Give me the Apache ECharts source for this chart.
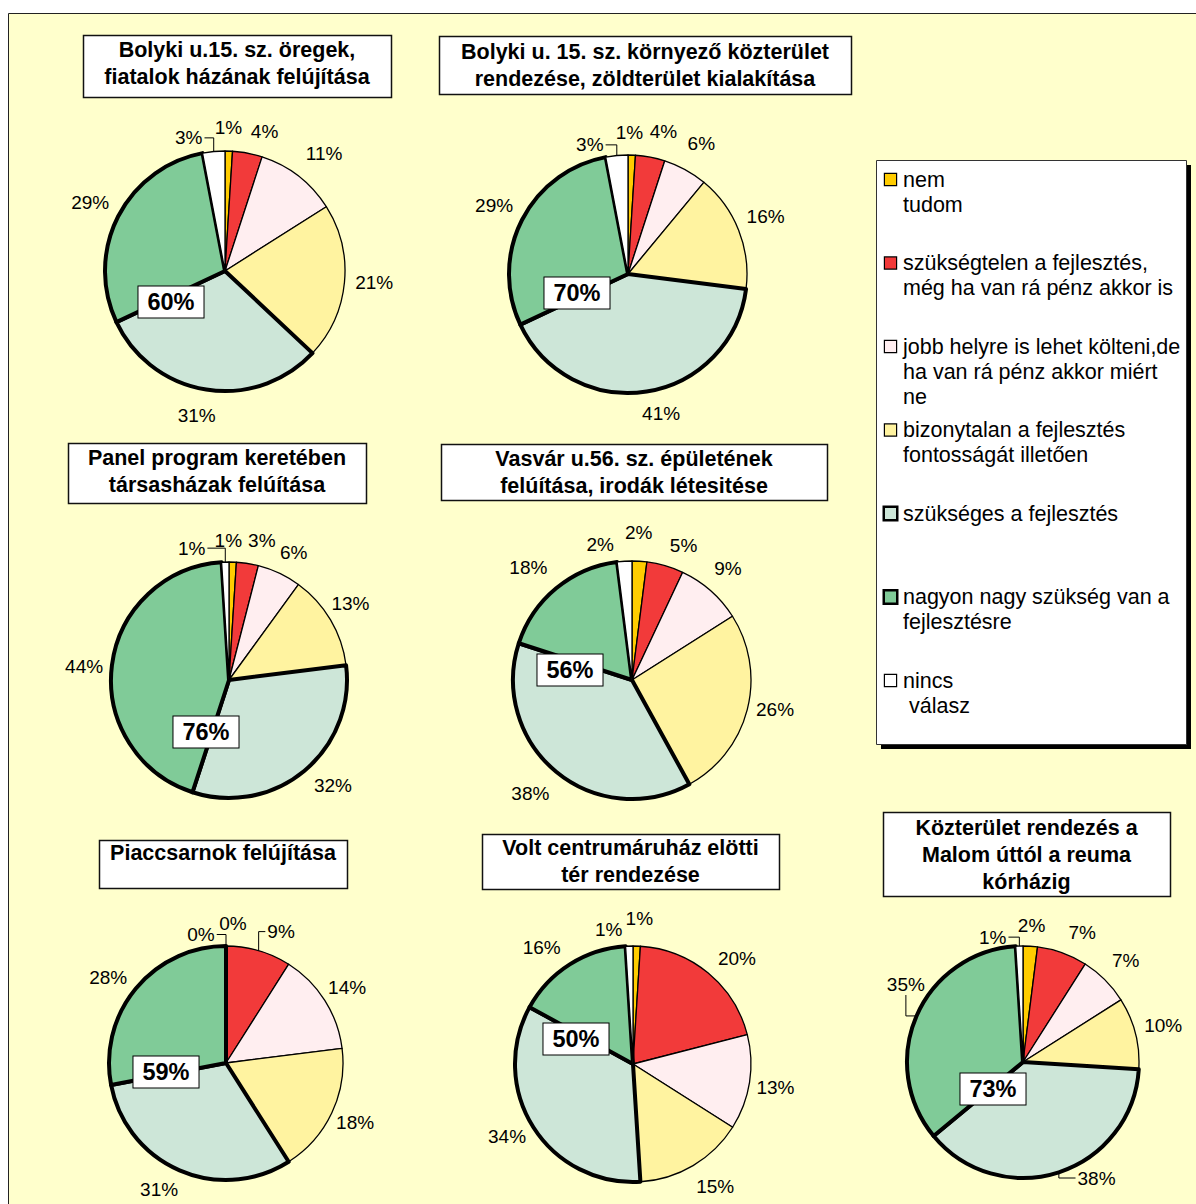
<!DOCTYPE html>
<html>
<head>
<meta charset="utf-8">
<script src="https://cdn.jsdelivr.net/npm/echarts@6/dist/echarts.min.js"></script>
<style>
html,body{margin:0;padding:0;background:#fff;}
#c{width:1196px;height:1204px;}
</style>
</head>
<body>
<div id="c"></div>
<script>
// ---------------- DATA ----------------
const categories = [
  'nem\ntudom',
  'szükségtelen a fejlesztés,\nmég ha van rá pénz akkor is',
  'jobb helyre is lehet költeni,de\nha van rá pénz akkor miért\nne',
  'bizonytalan a fejlesztés\nfontosságát illetően',
  'szükséges a fejlesztés',
  'nagyon nagy szükség van a\nfejlesztésre',
  'nincs\n válasz'
];
const titles = [
  'Bolyki u.15. sz. öregek,\nfiatalok házának felújítása',
  'Bolyki u. 15. sz. környező közterület\nrendezése, zöldterület kialakítása',
  'Panel program keretében\ntársasházak felúítása',
  'Vasvár u.56. sz. épületének\nfelúítása, irodák létesitése',
  'Piaccsarnok felújítása',
  'Volt centrumáruház elötti\ntér rendezése',
  'Közterület rendezés a\nMalom úttól a reuma\nkórházig'
];
const bolykiHaz      = [1, 4, 11, 21, 31, 29, 3];
const bolykiKozter   = [1, 4, 6, 16, 41, 29, 3];
const panelProgram   = [1, 3, 6, 13, 32, 44, 1];
const vasvarEpulet   = [2, 5, 9, 26, 38, 18, 2];
const piaccsarnok    = [0, 9, 14, 18, 31, 28, 0];
const centrumTer     = [1, 20, 13, 15, 34, 16, 1];
const malomKozter    = [2, 7, 7, 10, 38, 35, 1];
const seriesValues = [bolykiHaz, bolykiKozter, panelProgram, vasvarEpulet, piaccsarnok, centrumTer, malomKozter];
// indices of the two "needed" categories summed in the boxed centre label
const neededIdx = [4, 5];

// ---------------- STYLE / LAYOUT ----------------
const FONT = "'Liberation Sans', Arial, Helvetica, sans-serif";
const colors = ['#FFCC00', '#F23A3A', '#FFEEF0', '#FFF3A0', '#CDE6D8', '#80CB98', '#FFFFFF'];
const thickBorder = [false, false, false, false, true, true, false];
const pieCenters = [[225, 271], [628, 274], [229, 680], [632, 680], [226, 1063], [633, 1064], [1023, 1062]];
const pieRadii = [120, 119, 118, 119, 117, 118, 116];
// title boxes: x, y, w, h, first line centre y
const titleBoxes = [
  [83, 35, 308, 62, 50], [439, 36, 412, 58, 52], [68, 443, 298, 60, 458],
  [441, 444, 386, 56, 459], [99, 840, 248, 48, 853], [482, 834, 297, 55, 848],
  [883, 812, 287, 84, 828]
];
// boxed sum label offset from pie centre
const centerLabelOffsets = [[-54, 31], [-51, 19], [-23, 52], [-62, -10], [-60, 9], [-57, -25], [-30, 27]];
// per-label nudges [dx, dy, leaderLine]
const labelShifts = [
  [[-1, -4], [13, 0], [8, 0], [0, -3], [-6, 4], [0, 0], [-23, 7, 1]],
  [[-3, -3], [9, -4], [4, -4], [-2, -2], [11, 0], [0, 0], [-25, 10, 1]],
  [[-5, -2], [11, -2], [4, 1], [-7, -1], [10, -8], [2, 5], [-33, 6, 1]],
  [[-2, -8], [12, 2], [0, -3], [-2, -8], [-7, -1], [-9, 2], [-23, 4]],
  [[7, -3], [16, 3, 1], [-4, 4], [-5, -4], [-10, -5], [-4, 9], [-25, 8, 1]],
  [[2, -8], [10, 8], [-4, 0], [8, -3], [0, -7], [-13, 7], [-20, 3]],
  [[0, 0], [12, 2], [2, -1], [-2, 0], [30, -18, 1], [18, -19, 1], [-26, 11, 1]]
];
const LABEL_GAP = 10;

// ---------------- BUILD ----------------
function makeLabelLayout(ci) {
  return function (p) {
    const vals = seriesValues[ci];
    const total = vals.reduce((a, b) => a + b, 0);
    let cum = 0;
    for (let i = 0; i < p.dataIndex; i++) cum += vals[i];
    const th = 2 * Math.PI * (cum + vals[p.dataIndex] / 2) / total;
    const dx = Math.sin(th), dy = -Math.cos(th);
    const cx = pieCenters[ci][0], cy = pieCenters[ci][1], r = pieRadii[ci];
    const ex = cx + r * dx, ey = cy + r * dy;
    const hw = p.labelRect.width / 2, hh = p.labelRect.height / 2;
    const d = LABEL_GAP + hw * Math.abs(dx) + hh * Math.abs(dy);
    const sh = labelShifts[ci][p.dataIndex] || [0, 0];
    const lx = ex + dx * d + sh[0], ly = ey + dy * d + sh[1];
    const out = { x: lx, y: ly, align: 'center', verticalAlign: 'middle' };
    if (sh[2]) {
      const L = lx - hw, R = lx + hw, T = ly - hh, B = ly + hh;
      let pts;
      if (ex > R + 2) pts = [[R + 2, ly], [ex, ly], [ex, ey]];
      else if (ex < L - 2) pts = [[L - 2, ly], [ex, ly], [ex, ey]];
      else pts = [[lx, ey > ly ? B + 1 : T - 1], [lx, ey], [ex, ey]];
      out.labelLinePoints = pts;
    }
    return out;
  };
}

const series = seriesValues.map((vals, ci) => ({
  type: 'pie',
  center: pieCenters[ci],
  radius: pieRadii[ci],
  startAngle: 90,
  clockwise: true,
  avoidLabelOverlap: false,
  silent: true,
  animation: false,
  emphasis: { disabled: true },
  label: { show: true, position: 'outside', formatter: '{c}%', fontSize: 19, fontFamily: FONT, color: '#000' },
  labelLine: { show: false, lineStyle: { color: '#000', width: 1 } },
  labelLayout: makeLabelLayout(ci),
  data: vals.map((v, i) => ({
    name: categories[i],
    value: v,
    itemStyle: { color: colors[i], borderColor: '#000', borderWidth: thickBorder[i] ? 4 : 1.3, borderJoin: 'round' },
    labelLine: { show: !!(labelShifts[ci][i] && labelShifts[ci][i][2]) }
  }))
}));

const graphics = [];
// page frame
graphics.push({ type: 'rect', z: -10, shape: { x: 8.5, y: 13.5, width: 1200, height: 1200 },
  style: { fill: '#FFFFCC', stroke: '#222', lineWidth: 1 } });
// legend frame with shadow
graphics.push({ type: 'rect', z: -5, shape: { x: 881, y: 165, width: 310, height: 584 }, style: { fill: '#000' } });
graphics.push({ type: 'rect', z: -4, shape: { x: 876.5, y: 160.5, width: 310, height: 584 },
  style: { fill: '#fff', stroke: '#333', lineWidth: 1 } });
// title boxes
titles.forEach((t, i) => {
  const b = titleBoxes[i];
  graphics.push({ type: 'rect', z: -3, shape: { x: b[0] + 0.5, y: b[1] + 0.5, width: b[2], height: b[3] },
    style: { fill: '#fff', stroke: '#111', lineWidth: 1.5 } });
  graphics.push({ type: 'text', z: -2, style: {
    text: t, x: b[0] + b[2] / 2, y: b[4] - 13.5,
    align: 'center', verticalAlign: 'top', textAlign: 'center', textVerticalAlign: 'top',
    font: 'bold 21.5px ' + FONT, lineHeight: 27, fill: '#000'
  } });
});
// boxed centre sums
seriesValues.forEach((vals, ci) => {
  const sum = neededIdx.reduce((a, k) => a + vals[k], 0);
  graphics.push({ type: 'text', z: 50, style: {
    text: sum + '%',
    x: pieCenters[ci][0] + centerLabelOffsets[ci][0],
    y: pieCenters[ci][1] + centerLabelOffsets[ci][1],
    align: 'center', verticalAlign: 'middle', textAlign: 'center', textVerticalAlign: 'middle',
    font: 'bold 23.5px ' + FONT, fill: '#000', lineHeight: 24,
    backgroundColor: '#fff', borderColor: '#000', borderWidth: 1, padding: [4, 9, 3, 9]
  } });
});

// legend rich styles
const rich = {
  t: { fontSize: 21.5, fontFamily: FONT, color: '#000', lineHeight: 25, verticalAlign: 'middle' },
  g: { width: 7, lineHeight: 25 },
  sp: { width: 18, lineHeight: 25 }
};
categories.forEach((c, i) => {
  rich['b' + i] = { width: 11, height: 11, lineHeight: 25, verticalAlign: 'middle',
    backgroundColor: colors[i], borderColor: '#000', borderWidth: thickBorder[i] ? 2.5 : 1.2 };
});

const option = {
  backgroundColor: '#ffffff',
  animation: false,
  graphic: { elements: graphics },
  legend: {
    data: categories,
    orient: 'vertical',
    left: 878,
    top: 168.5,
    padding: 0,
    itemWidth: 1,
    itemHeight: 1,
    itemGap: 11.5,
    itemStyle: { opacity: 0 },
    selectedMode: false,
    formatter: function (name) {
      const i = categories.indexOf(name);
      const lines = name.split('\n');
      let s = '{b' + i + '|}{g|}{t|' + lines[0] + '}';
      for (let k = 1; k < 3; k++) s += '\n{sp|}{t|' + (lines[k] || ' ') + '}';
      return s;
    },
    textStyle: { rich: rich }
  },
  series: series
};

const chart = echarts.init(document.getElementById('c'), null, { renderer: 'svg' });
chart.setOption(option);
</script>
</body>
</html>
